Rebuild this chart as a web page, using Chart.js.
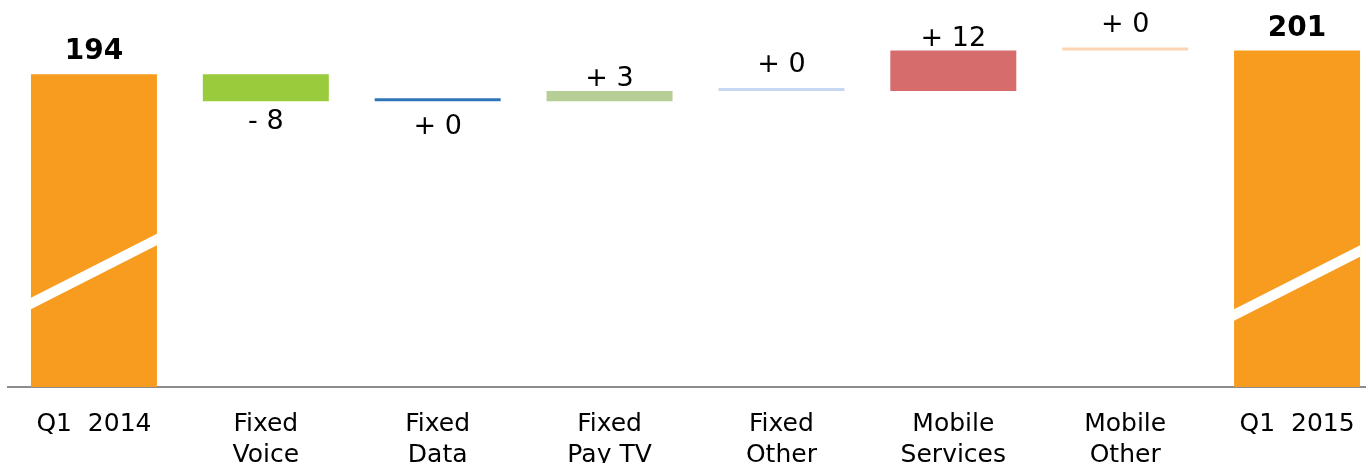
<!DOCTYPE html>
<html>
<head>
<meta charset="utf-8">
<script src="https://cdn.jsdelivr.net/npm/chart.js@4.4.1/dist/chart.umd.min.js"></script>
<style>
  html, body { margin: 0; padding: 0; background: #fff; overflow: hidden; }
  #wrap { width: 1384px; height: 463px; }
</style>
</head>
<body>
<div id="wrap"><canvas id="c" width="1384" height="463"></canvas></div>
<script>
// ---- data ----
const categories = [["Q1  2014"], ["Fixed", "Voice"], ["Fixed", "Data"], ["Fixed", "Pay TV"],
                    ["Fixed", "Other"], ["Mobile", "Services"], ["Mobile", "Other"], ["Q1  2015"]];
const startTotal = 194;
const deltas = [-8, 0, 3, 0, 12, 0];
const endTotal = 201;
const labelBelow = [false, true, true, false, false, false, false, false];

const colors = ["#F89C1F", "#9ACB3C", "#2E75B6", "#B7CF96", "#C6D9F1", "#D66C6C", "#FCD5B4", "#F89C1F"];

// build floating waterfall data
const barData = [startTotal];
let level = startTotal;
deltas.forEach(d => { barData.push([level, level + d]); level += d; });
barData.push(endTotal);
const labelTexts = [String(startTotal)]
  .concat(deltas.map(d => (d < 0 ? "- " + Math.abs(d) : "+ " + d)))
  .concat([String(endTotal)]);
const isTotal = i => i === 0 || i === categories.length - 1;
const BAR_PCT = 0.733;

const breakPlugin = {
  id: "breaksAndLabels",
  afterDraw(chart) {
    const ctx = chart.ctx;
    const meta = chart.getDatasetMeta(0);
    const xs = chart.scales.x;
    const area = chart.chartArea;
    const catW = xs.width / categories.length;
    const barW = catW * BAR_PCT;
    const breakOffsets = [83.5, 0, 0, 0, 0, 0, 0, 72];
    const thick = 11.5, rise = 64;
    meta.data.forEach((bar, i) => {
      const cx = xs.getPixelForValue(i);
      const top = Math.min(bar.y, bar.base);
      const bottom = Math.min(Math.max(bar.y, bar.base), area.bottom);
      const l = cx - barW / 2, r = cx + barW / 2;
      if (isTotal(i)) {
        const yl = bottom - breakOffsets[i];
        ctx.save();
        ctx.fillStyle = "#ffffff";
        ctx.beginPath();
        ctx.moveTo(l, yl - thick / 2);
        ctx.lineTo(r, yl - rise - thick / 2);
        ctx.lineTo(r, yl - rise + thick / 2);
        ctx.lineTo(l, yl + thick / 2);
        ctx.closePath();
        ctx.fill();
        ctx.restore();
      }
      // labels
      ctx.save();
      ctx.fillStyle = "#000";
      ctx.textAlign = "center";
      ctx.textBaseline = "alphabetic";
      if (isTotal(i)) {
        ctx.font = "bold 28px 'DejaVu Sans'";
        ctx.fillText(labelTexts[i], cx, top - 15);
      } else {
        ctx.font = "27px 'DejaVu Sans'";
        const zero = deltas[i - 1] === 0;
        if (labelBelow[i]) {
          const gap = zero ? 13 : 8;
          ctx.fillText(labelTexts[i], cx, bottom + gap + 19.7);
        } else {
          const gap = zero ? 16 : 5;
          ctx.fillText(labelTexts[i], cx, top - gap);
        }
      }
      ctx.restore();
    });
  }
};

new Chart(document.getElementById("c"), {
  type: "bar",
  data: {
    labels: categories,
    datasets: [{
      data: barData,
      backgroundColor: colors,
      borderWidth: 0,
      barPercentage: BAR_PCT,
      categoryPercentage: 1,
      minBarLength: 3
    }]
  },
  options: {
    responsive: false,
    animation: false,
    layout: { padding: { left: 8, right: 1, top: 0, bottom: 0 } },
    plugins: { legend: { display: false }, tooltip: { enabled: false } },
    scales: {
      x: {
        grid: { display: false, drawTicks: false },
        border: { display: true, color: "#8C8C8C", width: 2 },
        ticks: {
          color: "#000",
          font: { family: "'DejaVu Sans'", size: 25, lineHeight: 1.25 },
          padding: 22,
          maxRotation: 0,
          autoSkip: false
        },
        afterFit(scale) { scale.height = 76; }
      },
      y: {
        display: false,
        min: 101.34,
        max: 215.97
      }
    }
  },
  plugins: [breakPlugin]
});
</script>
</body>
</html>
